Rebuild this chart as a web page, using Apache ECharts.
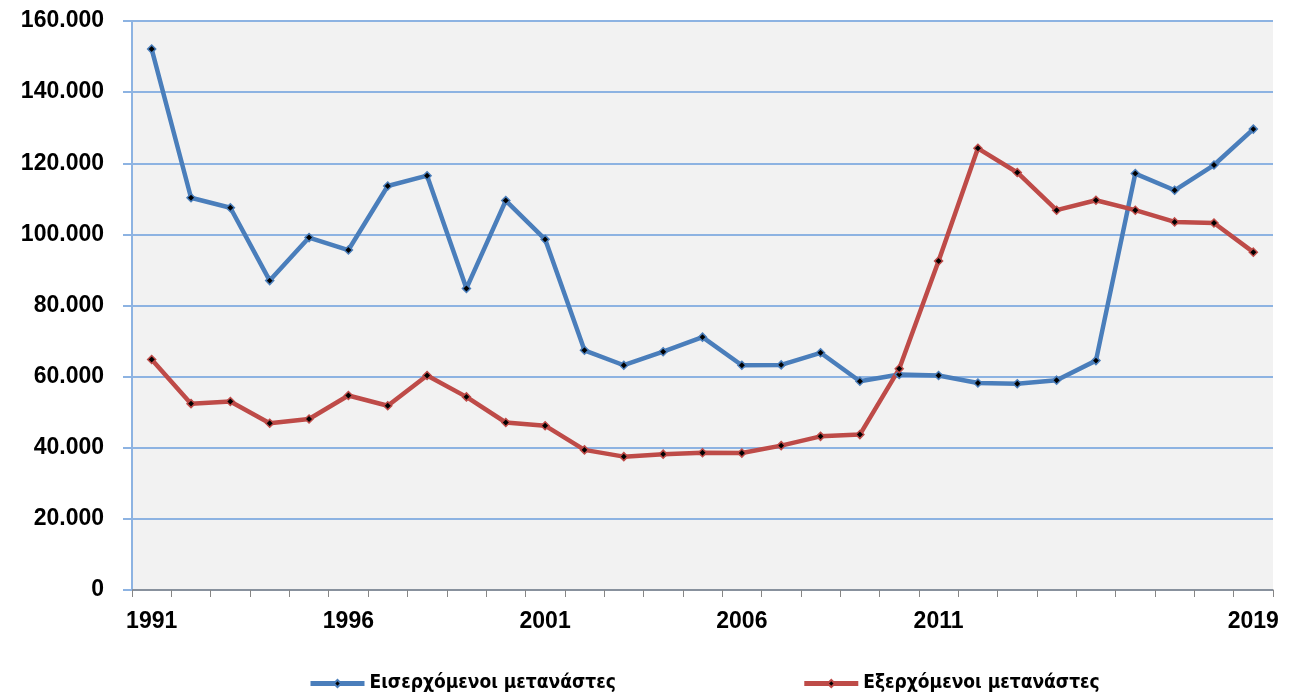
<!DOCTYPE html>
<html>
	<head>
		<meta charset="UTF-8">
		<title></title>
		<style>
			html,body{
				margin:0px;
				height:100%;
				background:#fff;
			}
			#chart {
				width:1296px;
				height:699px;
			}
		</style>
	</head>
	<body>
		<div id="chart"></div>
		<script src="https://cdn.jsdelivr.net/npm/echarts@6/dist/echarts.min.js"></script>
		<script>
			// έτη
			var years = ['1991','1992','1993','1994','1995','1996','1997','1998','1999','2000',
				'2001','2002','2003','2004','2005','2006','2007','2008','2009','2010',
				'2011','2012','2013','2014','2015','2016','2017','2018','2019'];
			// εισερχόμενοι
			var inflow = [152100,110300,107500,87000,99100,95600,113600,116500,84800,109500,
				98600,67400,63200,67000,71100,63200,63300,66700,58700,60600,
				60300,58200,58000,59000,64500,117100,112400,119500,129600];
			// εξερχόμενοι
			var outflow = [64800,52400,53000,46900,48100,54700,51800,60300,54300,47100,
				46200,39400,37500,38200,38600,38500,40600,43200,43700,62200,
				92500,124200,117400,106800,109600,106800,103500,103200,95000];
			var shownLabels = ['1991','1996','2001','2006','2011','2019'];
			var seriesNames = ['Εισερχόμενοι μετανάστες','Εξερχόμενοι μετανάστες'];
			var colors = ['#4a7ebb','#be4b48'];

			function fmt(v){
				return String(v).replace(/\B(?=(\d{3})+(?!\d))/g, '.');
			}

			var chart = echarts.init(document.getElementById('chart'));
			var font = '"Liberation Sans", Arial, sans-serif';
			var legendFont = '"DejaVu Sans Condensed", "DejaVu Sans", sans-serif';

			function makeSeries(name, data, color){
				return {
					name: name,
					type: 'line',
					data: data,
					symbol: 'diamond',
					symbolSize: 8,
					showAllSymbol: true,
					lineStyle: { color: color, width: 4.5 },
					itemStyle: { color: '#000', borderColor: color, borderWidth: 1.5 },
					emphasis: { disabled: true },
					animation: false
				};
			}

			chart.setOption({
				animation: false,
				color: colors,
				grid: {
					left: 132, right: 23, top: 21, bottom: 109,
					show: true, backgroundColor: '#f2f2f2', borderWidth: 0
				},
				legend: {
					left: 303, bottom: 1,
					itemWidth: 54, itemHeight: 9, itemGap: 186,
					lineStyle: { width: 5 },
					textStyle: { fontFamily: legendFont, fontWeight: 'bold', fontSize: 19, color: '#000' },
					data: seriesNames
				},
				xAxis: {
					type: 'category',
					data: years,
					boundaryGap: true,
					axisLine: { lineStyle: { color: '#868686', width: 1.5 } },
					axisTick: { show: true, interval: 0, length: 7, lineStyle: { color: '#868686' } },
					axisLabel: {
						interval: function (i, v) { return shownLabels.indexOf(v) != -1; },
						margin: 20,
						fontFamily: font, fontWeight: 'bold', fontSize: 23, color: '#000'
					},
					splitLine: { show: false }
				},
				yAxis: {
					type: 'value',
					min: 0, max: 160000, interval: 20000,
					axisLine: { show: true, lineStyle: { color: '#8db3e2', width: 2 } },
					axisTick: { show: true, length: 9, lineStyle: { color: '#8db3e2', width: 2 } },
					axisLabel: {
						formatter: fmt,
						margin: 28,
						fontFamily: font, fontWeight: 'bold', fontSize: 23, color: '#000'
					},
					splitLine: { lineStyle: { color: '#8db3e2', width: 2 } }
				},
				series: [
					makeSeries(seriesNames[0], inflow, colors[0]),
					makeSeries(seriesNames[1], outflow, colors[1])
				]
			});
		</script>
	</body>
</html>
